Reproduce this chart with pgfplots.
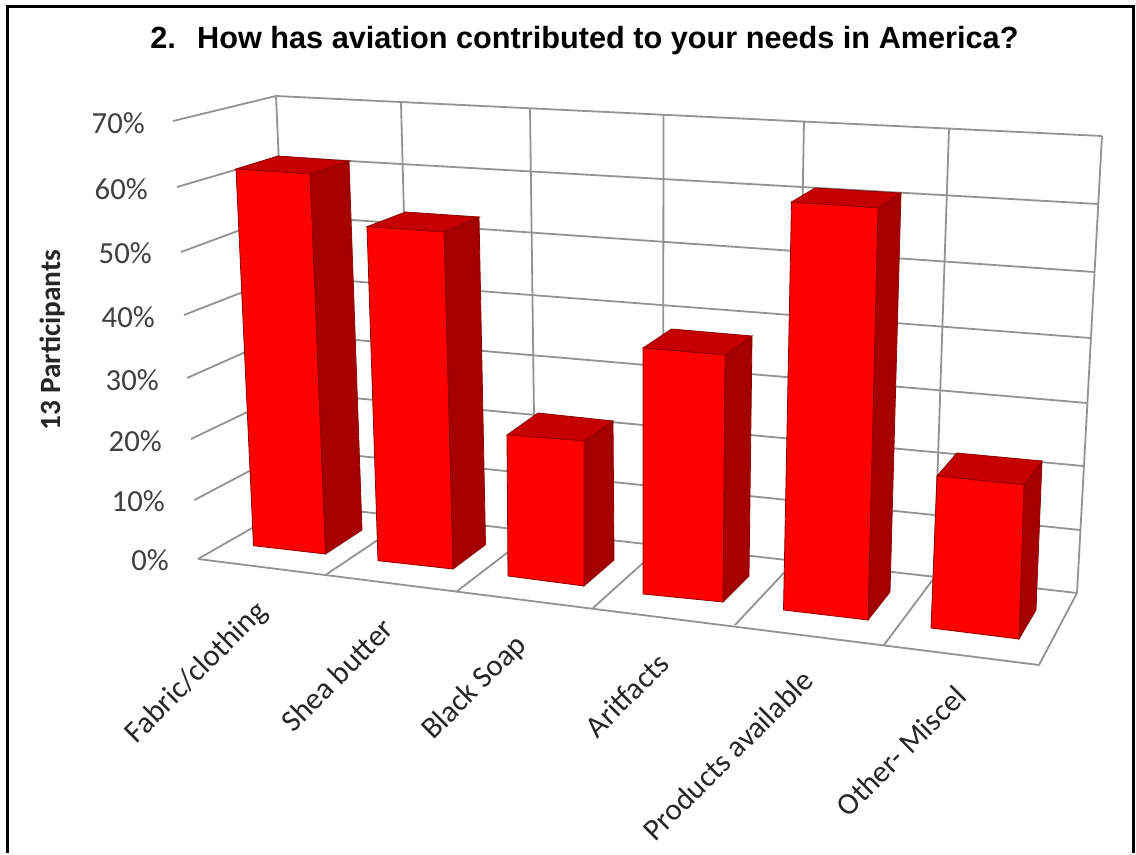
\documentclass[border=0pt]{standalone}
\usepackage{pgfplots}
\pgfplotsset{compat=1.18}
\usepackage{fontspec}
\setmainfont{Carlito}
\newfontfamily\titlefont{Liberation Sans}
\definecolor{gridgray}{HTML}{939393}
\definecolor{barfront}{HTML}{FF0000}
\definecolor{barside}{HTML}{A50000}
\definecolor{bartop}{HTML}{C60000}
\definecolor{baredge}{HTML}{8E0000}
\definecolor{ticktext}{HTML}{404040}
\pgfplotsset{
  grid line/.style={gridgray,line width=1.35pt,no markers,forget plot},
  front face/.style={fill=barfront,draw=baredge,line width=0.6pt,no markers,forget plot},
  side face/.style={fill=barside,draw=baredge,line width=0.6pt,no markers,forget plot},
  top face/.style={fill=bartop,draw=baredge,line width=0.6pt,no markers,forget plot},
}
\begin{document}
\begin{tikzpicture}
\begin{axis}[
  at={(0,0)}, anchor=south west,
  width=852pt, height=639.75pt, scale only axis,
  xmin=0, xmax=1136, ymin=0, ymax=853, y dir=reverse,
  hide axis, clip=false,
]
% page background
\addplot[fill=white,draw=none,forget plot] coordinates {(0,0) (1136,0) (1136,853) (0,853)} -- cycle;
% frame, open at the bottom
\addplot[black,line width=2.25pt,forget plot] coordinates {(7.5,853) (7.5,6.5) (1133.5,6.5) (1133.5,853)};

% side wall: 0%..70% rules
\addplot[grid line] coordinates {(173,121) (276,96)};
\addplot[grid line] coordinates {(177,187) (279,157)};
\addplot[grid line] coordinates {(181,252) (281,215)};
\addplot[grid line] coordinates {(184,315) (284,276)};
\addplot[grid line] coordinates {(187,378) (286,334)};
\addplot[grid line] coordinates {(191,439) (289,392)};
\addplot[grid line] coordinates {(194.5,500) (291,449)};
\addplot[grid line] coordinates {(198,559) (294,504)};
% back wall: horizontal rules
\addplot[grid line] coordinates {(276,96) (1102,136)};
\addplot[grid line] coordinates {(279,157) (1098,204)};
\addplot[grid line] coordinates {(281,215) (1094,272)};
\addplot[grid line] coordinates {(284,276) (1090,338)};
\addplot[grid line] coordinates {(286,334) (1087,403)};
\addplot[grid line] coordinates {(289,392) (1083,466)};
\addplot[grid line] coordinates {(291,449) (1080.5,530)};
\addplot[grid line] coordinates {(294,504) (1077,593)};
% back wall: category dividers
\addplot[grid line] coordinates {(276,96) (294,504)};
\addplot[grid line] coordinates {(401,103) (412,517)};
\addplot[grid line] coordinates {(530,108) (535.5,531)};
\addplot[grid line] coordinates {(663.5,115) (663,545)};
\addplot[grid line] coordinates {(804,122) (796,560)};
\addplot[grid line] coordinates {(949,129) (934,578)};
\addplot[grid line] coordinates {(1102,136) (1077,593)};
% floor
\addplot[grid line] coordinates {(198,559) (1039,665)};
\addplot[grid line] coordinates {(1039,665) (1077,593)};
\addplot[grid line] coordinates {(325.5,575) (412,517)};
\addplot[grid line] coordinates {(456,592) (535.5,531)};
\addplot[grid line] coordinates {(593,608) (663,545)};
\addplot[grid line] coordinates {(735,625) (796,560)};
\addplot[grid line] coordinates {(884,645) (934,578)};

% Fabric/clothing
\addplot[side face]  coordinates {(310,174) (349,161) (362,530) (325.5,554)} -- cycle;
\addplot[top face]   coordinates {(236,169) (278,156) (349,161) (310,174)} -- cycle;
\addplot[front face] coordinates {(236,169) (310,174) (325.5,554) (253.5,545.7)} -- cycle;
% Shea butter
\addplot[side face]  coordinates {(444,232) (479,217) (485.5,544.7) (453,569)} -- cycle;
\addplot[top face]   coordinates {(367,226.7) (405.5,212) (479,217) (444,232)} -- cycle;
\addplot[front face] coordinates {(367,226.7) (444,232) (453,569) (378,560.7)} -- cycle;
% Black Soap
\addplot[side face]  coordinates {(584,441) (613,421) (614,560) (584,586)} -- cycle;
\addplot[top face]   coordinates {(507,435) (538,413) (613,421) (584,441)} -- cycle;
\addplot[front face] coordinates {(507,435) (584,441) (584,586) (508,576)} -- cycle;
% Aritfacts
\addplot[side face]  coordinates {(725,355) (752,336) (749,576) (723,602)} -- cycle;
\addplot[top face]   coordinates {(643,348) (671.5,329) (752,336) (725,355)} -- cycle;
\addplot[front face] coordinates {(643,348) (725,355) (723,602) (643,594)} -- cycle;
% Products available
\addplot[side face]  coordinates {(878,208) (901,193) (890,592) (868,620)} -- cycle;
\addplot[top face]   coordinates {(791.5,202) (815,188) (901,193) (878,208)} -- cycle;
\addplot[front face] coordinates {(791.5,202) (878,208) (868,620) (783.5,610)} -- cycle;
% Other- Miscel
\addplot[side face]  coordinates {(1024,485) (1042,461) (1036,610) (1019,639)} -- cycle;
\addplot[top face]   coordinates {(937,476) (957,453) (1042,461) (1024,485)} -- cycle;
\addplot[front face] coordinates {(937,476) (1024,485) (1019,639) (931,628)} -- cycle;

% title
\node[anchor=base west,inner sep=0pt,font=\titlefont\bfseries\fontsize{23pt}{26pt}\selectfont]
  at (axis cs:150,49) {2.\hspace{16pt}How has aviation contributed to your needs in America?};
% value axis labels
\tikzset{vlabel/.style={anchor=east,inner sep=0pt,text=ticktext,font=\fontsize{23pt}{26pt}\selectfont}}
\node[vlabel] at (axis cs:145,123) {70\%};
\node[vlabel] at (axis cs:148,189) {60\%};
\node[vlabel] at (axis cs:152,253) {50\%};
\node[vlabel] at (axis cs:155,317) {40\%};
\node[vlabel] at (axis cs:159,380) {30\%};
\node[vlabel] at (axis cs:162,441) {20\%};
\node[vlabel] at (axis cs:165,501) {10\%};
\node[vlabel] at (axis cs:169,560) {0\%};
% vertical axis title
\node[rotate=90,inner sep=0pt,font=\bfseries\fontsize{22pt}{26pt}\selectfont,text=black!85]
  at (axis cs:52,340) {13 Participants};
% category labels
\tikzset{clabel/.style={rotate=45,inner sep=0pt,text=black!85,font=\fontsize{23pt}{26pt}\selectfont}}
\node[clabel] at (axis cs:197,673) {Fabric/clothing};
\node[clabel] at (axis cs:337,675) {Shea butter};
\node[clabel] at (axis cs:475,688) {Black Soap};
\node[clabel] at (axis cs:627,695) {Aritfacts};
\node[clabel] at (axis cs:728,755) {Products available};
\node[clabel] at (axis cs:901,751) {Other- Miscel};
\end{axis}
\end{tikzpicture}
\end{document}
